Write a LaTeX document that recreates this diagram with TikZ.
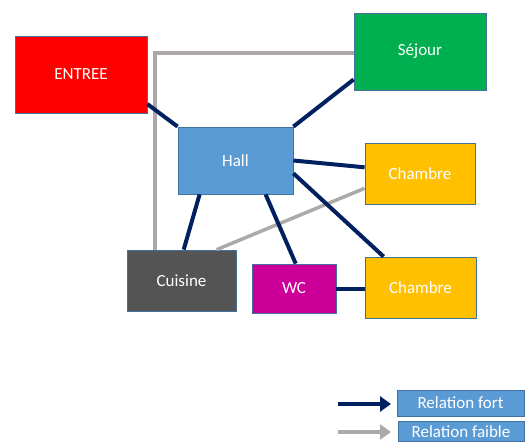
\documentclass[tikz,border=0pt]{standalone}
\usepackage{fontspec}
\setmainfont{Carlito}
\usetikzlibrary{calc,arrows.meta}
\definecolor{cred}{HTML}{FF0000}
\definecolor{cgreen}{HTML}{00B050}
\definecolor{cblue}{HTML}{5B9BD5}
\definecolor{corange}{HTML}{FFC000}
\definecolor{cdgray}{HTML}{545454}
\definecolor{cmag}{HTML}{CC0099}
\definecolor{cnavy}{HTML}{002060}
\definecolor{clgray}{HTML}{ADA9A9}
\definecolor{cborder}{HTML}{41719C}
\begin{document}
\begin{tikzpicture}[x=1pt,y=-1pt,
  room/.style={draw=cborder,line width=0.8pt,text=white,inner sep=0pt,
    font=\fontsize{17}{20}\selectfont},
  strong/.style={draw=cnavy,line width=4pt},
  weak/.style={draw=clgray,line width=3.5pt},
  tipstyle/.style={-{Triangle[length=11pt,width=15pt]}}]
\useasboundingbox (0,0) rectangle (526,442);
\node[room,fill=cred,minimum width=132pt,minimum height=77pt] (entree) at (81,74.5) {ENTREE};
\node[room,fill=cgreen,minimum width=132pt,minimum height=77pt] (sejour) at (420,51.5) {Séjour};
\node[room,fill=cblue,minimum width=115pt,minimum height=67pt] (hall) at (235.5,160.5) {Hall};
\node[room,fill=corange,minimum width=110pt,minimum height=61pt] (ch1) at (420,173.5) {Chambre};
\node[room,fill=cdgray,minimum width=109pt,minimum height=61pt] (cuis) at (181.5,280.5) {Cuisine};
\node[room,fill=cmag,minimum width=84pt,minimum height=49pt] (wc) at (294,288.5) {WC};
\node[room,fill=corange,minimum width=111pt,minimum height=61pt] (ch2) at (420.5,287.5) {Chambre};
% weak relations
\draw[weak] ($(cuis.north west)!0.26!(cuis.north east)$) |- ($(sejour.north west)!0.52!(sejour.south west)$);
\draw[weak] ($(cuis.north west)!0.82!(cuis.north east)$) -- ($(ch1.north west)!0.74!(ch1.south west)$);
% strong relations
\draw[strong] ($(entree.north east)!0.88!(entree.south east)$) -- (hall.north west);
\draw[strong] (hall.north east) -- ($(sejour.north west)!0.86!(sejour.south west)$);
\draw[strong] ($(hall.north east)!0.5!(hall.south east)$) -- ($(ch1.north west)!0.4!(ch1.south west)$);
\draw[strong] ($(hall.north east)!0.69!(hall.south east)$) -- ($(ch2.north west)!0.17!(ch2.north east)$);
\draw[strong] ($(hall.south west)!0.19!(hall.south east)$) -- ($(cuis.north west)!0.52!(cuis.north east)$);
\draw[strong] ($(hall.south west)!0.76!(hall.south east)$) -- ($(wc.north west)!0.52!(wc.north east)$);
\draw[strong] (wc.east) -- (wc.east -| ch2.west);
% legend
\node[room,fill=cblue,minimum width=127pt,minimum height=26pt] (fort) at (460.5,403) {Relation fort};
\node[room,fill=cblue,minimum width=126pt,minimum height=20.5pt] (faible) at (461,431.5) {Relation faible};
\coordinate (la1) at (338,404);
\coordinate (la2) at (391,404);
\coordinate (lb1) at (338,432);
\coordinate (lb2) at (391,432);
\draw[strong,tipstyle,cnavy] (la1) -- (la2);
\draw[weak,tipstyle,clgray] (lb1) -- (lb2);
\end{tikzpicture}
\end{document}
